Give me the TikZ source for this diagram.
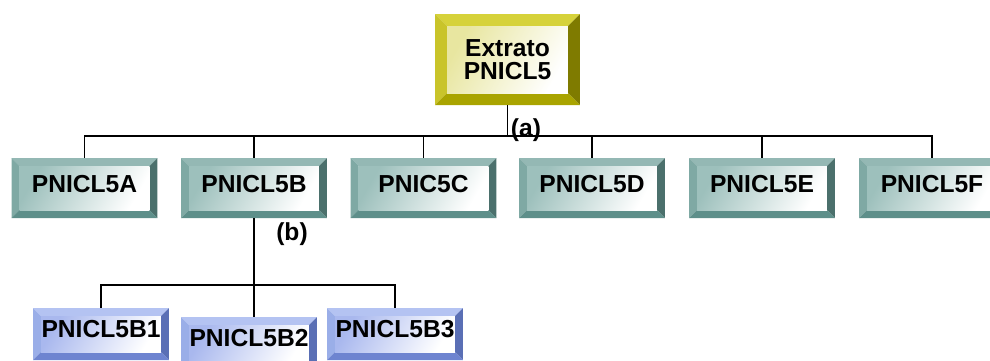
\documentclass[tikz,border=0pt]{standalone}
\usepackage{fontspec}
\setmainfont{Liberation Sans}
\usepackage{xcolor}
\usepackage{tikz}

\definecolor{tealTop}{HTML}{94B8B4}
\definecolor{tealLeft}{HTML}{7FA9A4}
\definecolor{tealRight}{HTML}{4B706C}
\definecolor{tealBot}{HTML}{5E8F8A}
\definecolor{tealFace}{HTML}{9DC0BC}
\definecolor{blueTop}{HTML}{B4C3F2}
\definecolor{blueLeft}{HTML}{9AAEE8}
\definecolor{blueRight}{HTML}{5A6FB5}
\definecolor{blueBot}{HTML}{6E84D0}
\definecolor{blueFace}{HTML}{A9B8EE}
\definecolor{yelTop}{HTML}{D6D23A}
\definecolor{yelLeft}{HTML}{C9C42A}
\definecolor{yelRight}{HTML}{7F7B00}
\definecolor{yelBot}{HTML}{A9A400}
\definecolor{yelFace}{HTML}{E8E6A0}

\tikzset{
  % 斜面方框: 上, 左, 右, 下, 面, 斜面宽
  bevelbox/.style n args={6}{draw=none, inner sep=0pt,
    font=\bfseries\fontsize{14}{13}\selectfont,
    path picture={
      \path (path picture bounding box.south west) coordinate (bsw)
            (path picture bounding box.north east) coordinate (bne);
      \coordinate (bnw) at (bsw |- bne);
      \coordinate (bse) at (bne |- bsw);
      \coordinate (inw) at ([shift={(#6,-#6)}]bnw);
      \coordinate (ine) at ([shift={(-#6,-#6)}]bne);
      \coordinate (isw) at ([shift={(#6,#6)}]bsw);
      \coordinate (ise) at ([shift={(-#6,#6)}]bse);
      \fill[#1] (bnw) -- (bne) -- (ine) -- (inw) -- cycle;
      \fill[#2] (bnw) -- (inw) -- (isw) -- (bsw) -- cycle;
      \fill[#3] (bne) -- (ine) -- (ise) -- (bse) -- cycle;
      \fill[#4] (bsw) -- (isw) -- (ise) -- (bse) -- cycle;
      \shade[top color=#5, bottom color=white, shading angle=60] (isw) rectangle (ine);
    }},
  topbox/.style={bevelbox={yelTop}{yelLeft}{yelRight}{yelBot}{yelFace}{0.24cm},
    align=center, minimum width=2.9cm, minimum height=1.82cm},
  tealbox/.style={bevelbox={tealTop}{tealLeft}{tealRight}{tealBot}{tealFace}{0.16cm},
    text depth=0.18cm, minimum width=2.92cm, minimum height=1.2cm},
  bluebox/.style={bevelbox={blueTop}{blueLeft}{blueRight}{blueBot}{blueFace}{0.16cm},
    text depth=0.2cm, minimum width=2.72cm, minimum height=1.04cm},
  link/.style={line width=1.1pt},
  tag/.style={font=\bfseries\fontsize{14}{16}\selectfont, inner sep=0pt}
}

\begin{document}
\begin{tikzpicture}[x=0.02cm,y=-0.02cm]
        \clip (0,0) rectangle (990,360);
        % 顶层
        \node [topbox] (ext) at (507.5,59.5) {Extrato\\PNICL5};
        % 第二层
        \node [tealbox] (a) at (84.5,188) {PNICL5A};
        \node [tealbox] (b) at (254,188) {PNICL5B};
        \node [tealbox] (c) at (423.5,188) {PNIC5C};
        \node [tealbox] (d) at (592,188) {PNICL5D};
        \node [tealbox] (e) at (762,188) {PNICL5E};
        \node [tealbox] (f) at (932,188) {PNICL5F};
        % 第三层
        \node [bluebox] (b1) at (101,334) {PNICL5B1};
        \node [bluebox] (b2) at (249,343) {PNICL5B2};
        \node [bluebox] (b3) at (395,334) {PNICL5B3};
        % 连线
        \coordinate (bus) at (0,136);
        \coordinate (busb) at (0,285);
        \foreach \k in {a,b,c,d,e,f}
            \draw [link] (ext.south) -- (ext.south |- bus) -| (\k.north);
        \draw [link] (b.south) -- (b.south |- b2.north);
        \foreach \k in {b1,b3}
            \draw [link] (b.south |- busb) -| (\k.north);
        % 标签
        \node [tag] (la) at (526,130) {(a)};
        \node [tag] (lb) at (292,234) {(b)};
    \end{tikzpicture}
\end{document}
